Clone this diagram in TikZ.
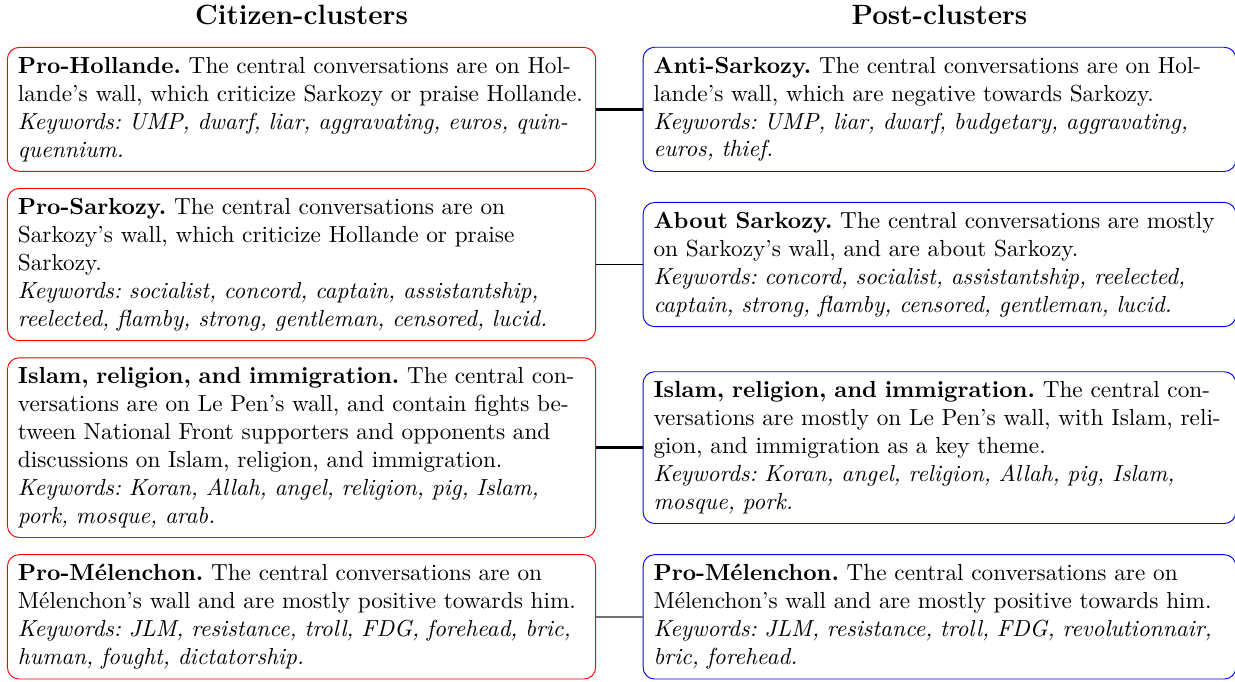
\documentclass[tikz,border=0pt]{standalone}
\usepackage{amsmath}
\usepackage{tikz}
\usetikzlibrary{positioning,shapes,arrows,backgrounds,calc}
\tikzstyle{citbox} = [rectangle, draw=red, rounded corners=5pt, %
   inner xsep=4.5pt, inner ysep=4.2pt, text width=244pt, align=left]
\tikzstyle{postbox} = [rectangle, draw=blue, rounded corners=5pt, %
   inner xsep=4.5pt, inner ysep=4.2pt, text width=246pt, align=left]
\tikzstyle{title} = [font=\large\bfseries]
\tikzstyle{heavy} = [draw, line width=1.4pt]
\tikzstyle{light} = [draw, thin]
\tikzstyle{faint} = [draw, black!55, line width=0.6pt]

\begin{document}
\frenchspacing
\begin{tikzpicture}
      \useasboundingbox (0,0) rectangle (531.2pt,-293.3pt);

      % Place nodes
      % CITIZEN-CLUSTERS %%%%%%%%%%%%%%%%%%%%%%%%%%%%%%%%%%%%%%%%%%%%%%
         \node[citbox, anchor=north west](cprohollande) at (3pt,-20.2pt){%
            \textbf{Pro-Hollande.} The central conversations are on Hollande's wall, which criticize Sarkozy or praise Hollande.\\
            \textit{Keywords: UMP, dwarf, liar, aggravating, euros, quinquennium.}};

         \node[citbox, below=7pt of cprohollande](cprosarkozy){%
            \textbf{Pro-Sarkozy.} The central conversations are on Sarkozy's wall, which criticize Hollande or praise Sarkozy.\\
            \textit{Keywords: socialist, concord, captain, assistantship, reelected, flamby, strong, gentleman, censored, lucid.}};

         \node[citbox, below=7pt of cprosarkozy](cislam){%
            \textbf{Islam, religion, and immigration.} The central conversations are on Le Pen's wall, and contain fights between National Front supporters and opponents and discussions on Islam, religion, and immigration.\\
            \textit{Keywords: Koran, Allah, angel, religion, pig, Islam, pork, mosque, arab.}};

         \node[citbox, below=7pt of cislam](cpromelenchon){%
            \textbf{Pro-Mélenchon.} The central conversations are on Mélenchon's wall and are mostly positive towards him.\\
            \textit{Keywords: JLM, resistance, troll, FDG, forehead, bric, human, fought, dictatorship.}};

      % POST-CLUSTERS %%%%%%%%%%%%%%%%%%%%%%%%%%%%%%%%%%%%%%%%%%%%%%%%%
         \node[postbox, right=20pt of cprohollande](pantisarkozy){%
            \textbf{Anti-Sarkozy.} The central conversations are on Hollande's wall, which are negative towards Sarkozy.\\
            \textit{Keywords: UMP, liar, dwarf, budgetary, aggravating, euros, thief.}};

         \node[postbox, right=20pt of cprosarkozy](paboutsarkozy){%
            \textbf{About Sarkozy.} The central conversations are mostly on Sarkozy's wall, and are about Sarkozy.\\
            \textit{Keywords: concord, socialist, assistantship, reelected, captain, strong, flamby, censored, gentleman, lucid.}};

         \node[postbox, right=20pt of cislam](pislam){%
            \textbf{Islam, religion, and immigration.} The central conversations are mostly on Le Pen's wall, with Islam, religion, and immigration as a key theme.\\
            \textit{Keywords: Koran, angel, religion, Allah, pig, Islam, mosque, pork.}};

         \node[postbox, right=20pt of cpromelenchon](ppromelenchon){%
            \textbf{Pro-Mélenchon.} The central conversations are on Mélenchon's wall and are mostly positive towards him.\\
            \textit{Keywords: JLM, resistance, troll, FDG, revolutionnair, bric, forehead.}};

         % Column titles
         \node[title, above=6pt of cprohollande](citizen){Citizen-clusters};
         \node[title, above=6pt of pantisarkozy](post){Post-clusters};

         % Draw edges
         \path [heavy] (cprohollande.east) -- (pantisarkozy.west);
         \path [light] (cprosarkozy.east) -- (paboutsarkozy.west);
         \path [heavy] (cislam.east) -- (pislam.west);
         \path [faint] (cpromelenchon.east) -- (ppromelenchon.west);

\end{tikzpicture}
\end{document}
